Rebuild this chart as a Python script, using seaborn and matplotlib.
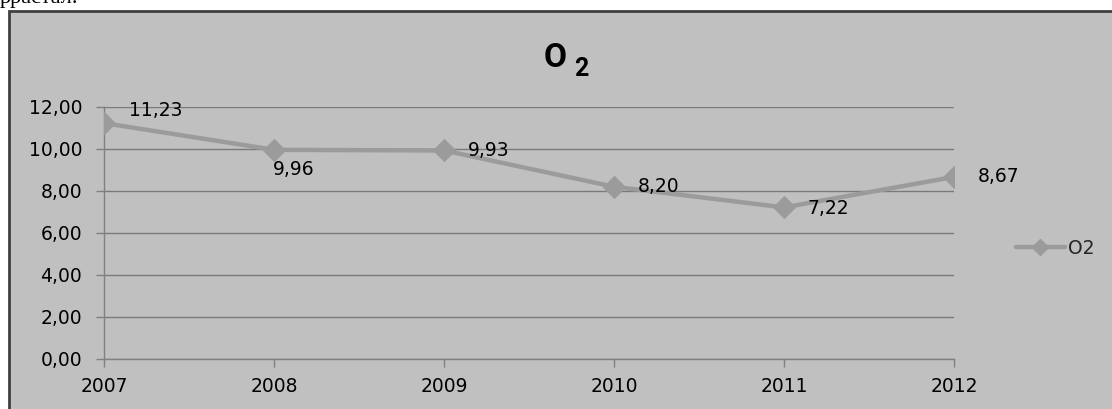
import numpy as np
import pandas as pd
import matplotlib
matplotlib.use("Agg")
import matplotlib.pyplot as plt
from matplotlib.patches import Rectangle
from matplotlib.lines import Line2D
import seaborn as sns

# Dissolved oxygen, yearly values
years = ["2007", "2008", "2009", "2010", "2011", "2012"]
o2_values = [11.23, 9.96, 9.93, 8.20, 7.22, 8.67]
y_ticks = [0, 2, 4, 6, 8, 10, 12]
series_name = "O2"

sns.set_theme(style="white")
plt.rcParams["font.family"] = ["DejaVu Sans"]

W, H = 1112, 409
fig = plt.figure(figsize=(W / 100, H / 100), dpi=100)
fig.patch.set_facecolor("white")

# chart frame (grey panel with dark border), drawn beneath the axes
fig.patches.append(Rectangle((9 / W, -0.05), 1.2, 1 - 11 / H + 0.05,
                             transform=fig.transFigure, facecolor="#c0c0c0",
                             edgecolor="#404040", linewidth=2, zorder=-5))

# running text line above the chart, clipped by the page edge
fig.text(0.0, 1 - 3 / H, "рраєтал.", family="Liberation Serif",
         fontsize=16, color="black", va="baseline", ha="left")

ax = fig.add_axes([104.3 / W, (H - 359) / H, (954 - 104.3) / W, (359 - 107) / H])
ax.set_facecolor("none")
ax.set_zorder(2)

df = pd.DataFrame({"pos": np.arange(len(years)), "value": o2_values})
line_color = "#9b9b9b"
sns.lineplot(data=df, x="pos", y="value", ax=ax, color=line_color,
             linewidth=3.2, marker="D", markersize=11, markeredgecolor=line_color,
             markerfacecolor=line_color, legend=False, zorder=3)

ax.set_xlim(0, len(years) - 1)
ax.set_ylim(0, 12)
ax.set_xticks(np.arange(len(years)))
ax.set_xticklabels(years)
ax.set_yticks(y_ticks)
ax.set_yticklabels([f"{v:.2f}".replace(".", ",") for v in y_ticks])
ax.set_xlabel("")
ax.set_ylabel("")

grid_color = "#7a7a7a"
ax.yaxis.grid(True, color=grid_color, linewidth=1)
ax.xaxis.grid(False)
ax.set_axisbelow(True)
for side in ["top", "right"]:
    ax.spines[side].set_visible(False)
for side in ["left", "bottom"]:
    ax.spines[side].set_color("#808080")
    ax.spines[side].set_linewidth(1)
label_size = 13.5
ax.tick_params(axis="y", which="major", direction="out", length=6, width=1,
               color="#808080", pad=10, labelsize=label_size, labelcolor="black", left=True)
ax.tick_params(axis="x", which="major", direction="out", length=6, width=1,
               color="#808080", pad=7, labelsize=label_size, labelcolor="black", bottom=True)

# value labels (decimal comma)
offsets = [(18, 9), (-1, -14), (17, 0), (17, 0), (17, -1), (17, 0)]
for i, (v, off) in enumerate(zip(o2_values, offsets)):
    ax.annotate(f"{v:.2f}".replace(".", ","), (i, v), xytext=off,
                textcoords="offset points", ha="left", va="center",
                fontsize=label_size, color="black", zorder=4)

# title: O with subscript 2
fig.text(544 / W, 1 - 67 / H, "O", ha="left", va="baseline", family="Roboto",
         fontsize=24, fontweight="bold", color="black")
fig.text(574 / W, 1 - 76 / H, "2", ha="left", va="baseline", family="Roboto",
         fontsize=18, fontweight="bold", color="black")

# legend
handle = Line2D([], [], color=line_color, linewidth=3.2, marker="D",
                markersize=8, markerfacecolor=line_color, markeredgecolor=line_color)
leg = fig.legend([handle], [series_name], loc="center left",
                 bbox_to_anchor=(1016 / W, 1 - 248 / H), frameon=False,
                 fontsize=label_size, handlelength=2.6, handletextpad=0.15,
                 borderpad=0, borderaxespad=0)

fig.savefig("out.png", dpi=100)
